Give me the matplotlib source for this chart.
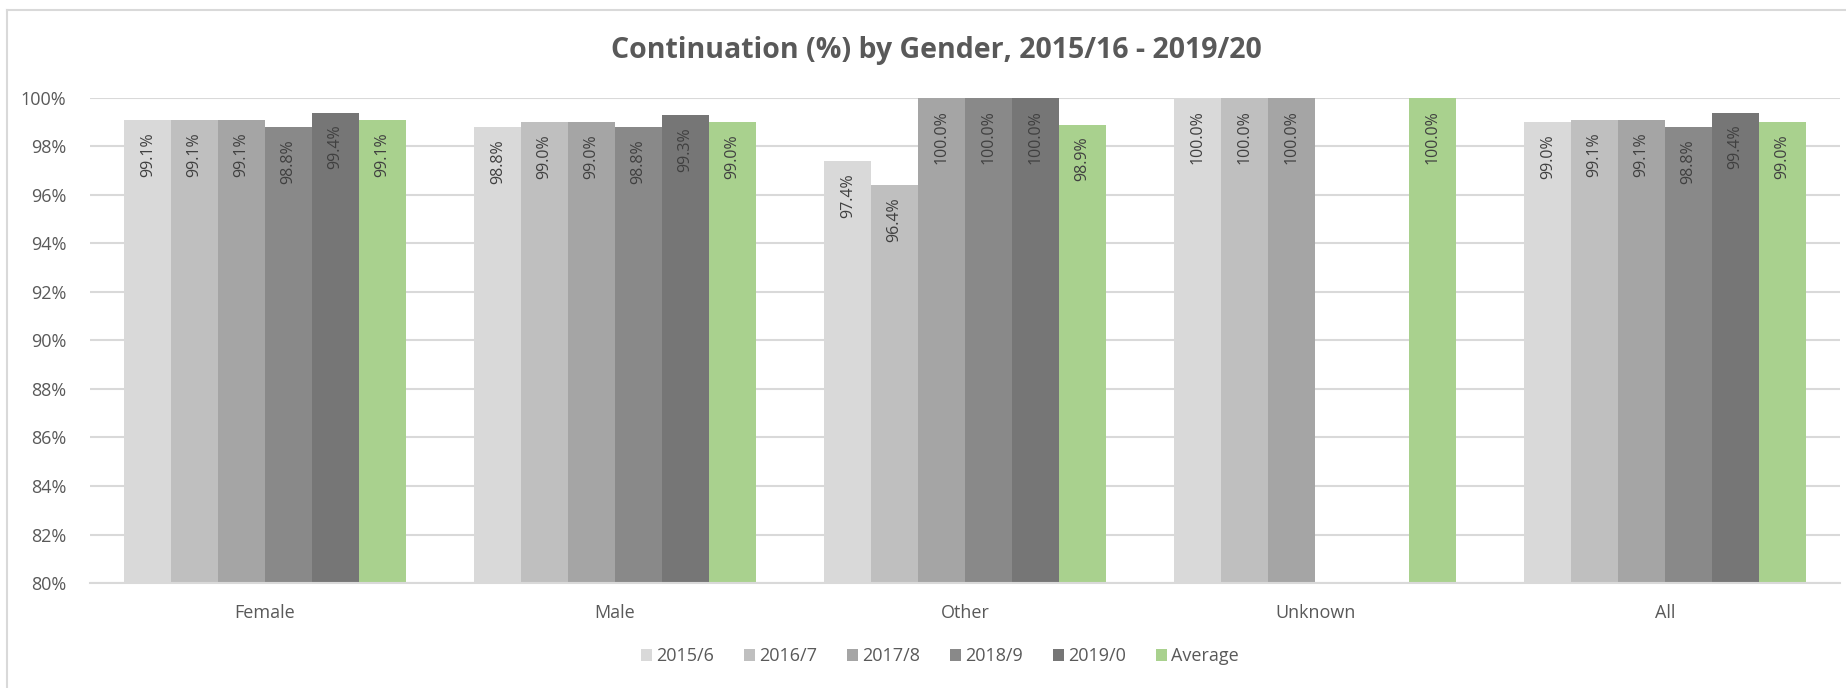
import matplotlib as mpl
mpl.use('Agg')
import matplotlib.pyplot as plt
from matplotlib.lines import Line2D
import numpy as np

plt.rcParams['font.family'] = ['Open Sans', 'DejaVu Sans']

categories = ['Female', 'Male', 'Other', 'Unknown', 'All']
series_names = ['2015/6', '2016/7', '2017/8', '2018/9', '2019/0', 'Average']
# continuation % per series, one value per category (nan = no bar)
y2015 = [99.1, 98.8, 97.4, 100.0, 99.0]
y2016 = [99.1, 99.0, 96.4, 100.0, 99.1]
y2017 = [99.1, 99.0, 100.0, 100.0, 99.1]
y2018 = [98.8, 98.8, 100.0, np.nan, 98.8]
y2019 = [99.4, 99.3, 100.0, np.nan, 99.4]
y_avg = [99.1, 99.0, 98.9, 100.0, 99.0]
yticks = [80, 82, 84, 86, 88, 90, 92, 94, 96, 98, 100]

series = [y2015, y2016, y2017, y2018, y2019, y_avg]
colors = ['#d9d9d9', '#bfbfbf', '#a5a5a5', '#898989', '#767676', '#a9d18e']
txt = '#595959'

fig = plt.figure(figsize=(18.46, 6.88), dpi=100)
ax = fig.add_axes([0.0488, 0.1526, 0.948, 0.705])

x = np.arange(len(categories))
w = 0.134
for i, (vals, c, name) in enumerate(zip(series, colors, series_names)):
  xs = x + (i - 2.5) * w
  v = np.array(vals, dtype=float)
  ax.bar(xs, v - 80, width=w, bottom=80, color=c, label=name, zorder=2)
  for xi, vi in zip(xs, v):
    if np.isnan(vi): continue
    ax.text(xi, vi - 0.5, '{:.1f}%'.format(vi), rotation=90, ha='center', va='top',
            fontsize=11.5, color='#404040', zorder=3)

ax.set_xlim(-0.5, len(categories) - 0.5)
ax.set_ylim(80, 100)
ax.set_yticks(yticks)
ax.set_yticklabels(['{}%'.format(t) for t in yticks])
ax.set_xticks(x)
ax.set_xticklabels(categories)
ax.yaxis.grid(True, color='#d9d9d9', lw=1.5, zorder=0)
ax.set_axisbelow(True)
for s in ['top', 'right', 'left']:
  ax.spines[s].set_visible(False)
ax.spines['bottom'].set_color('#d9d9d9')
ax.spines['bottom'].set_linewidth(1.5)
ax.tick_params(axis='both', length=0, colors=txt, labelsize=13)
ax.tick_params(axis='x', pad=15)
ax.tick_params(axis='y', pad=17)

fig.text(0.507, 0.926, 'Continuation (%) by Gender, 2015/16 - 2019/20', ha='center', va='center',
         fontsize=20.5, fontweight='bold', color=txt)

fig.legend(loc='center', bbox_to_anchor=(0.509, 0.0465), ncol=6, frameon=False,
           handlelength=0.65, handleheight=0.65, handletextpad=0.2, columnspacing=1.65,
           fontsize=13, labelcolor=txt)

# chart border (left and top edges visible)
fig.add_artist(Line2D([0.0038, 0.0038], [0, 0.985], transform=fig.transFigure, color='#d9d9d9', lw=1.5))
fig.add_artist(Line2D([0.0038, 1], [0.985, 0.985], transform=fig.transFigure, color='#d9d9d9', lw=1.5))

plt.savefig('out.png', dpi=100)
plt.close()
